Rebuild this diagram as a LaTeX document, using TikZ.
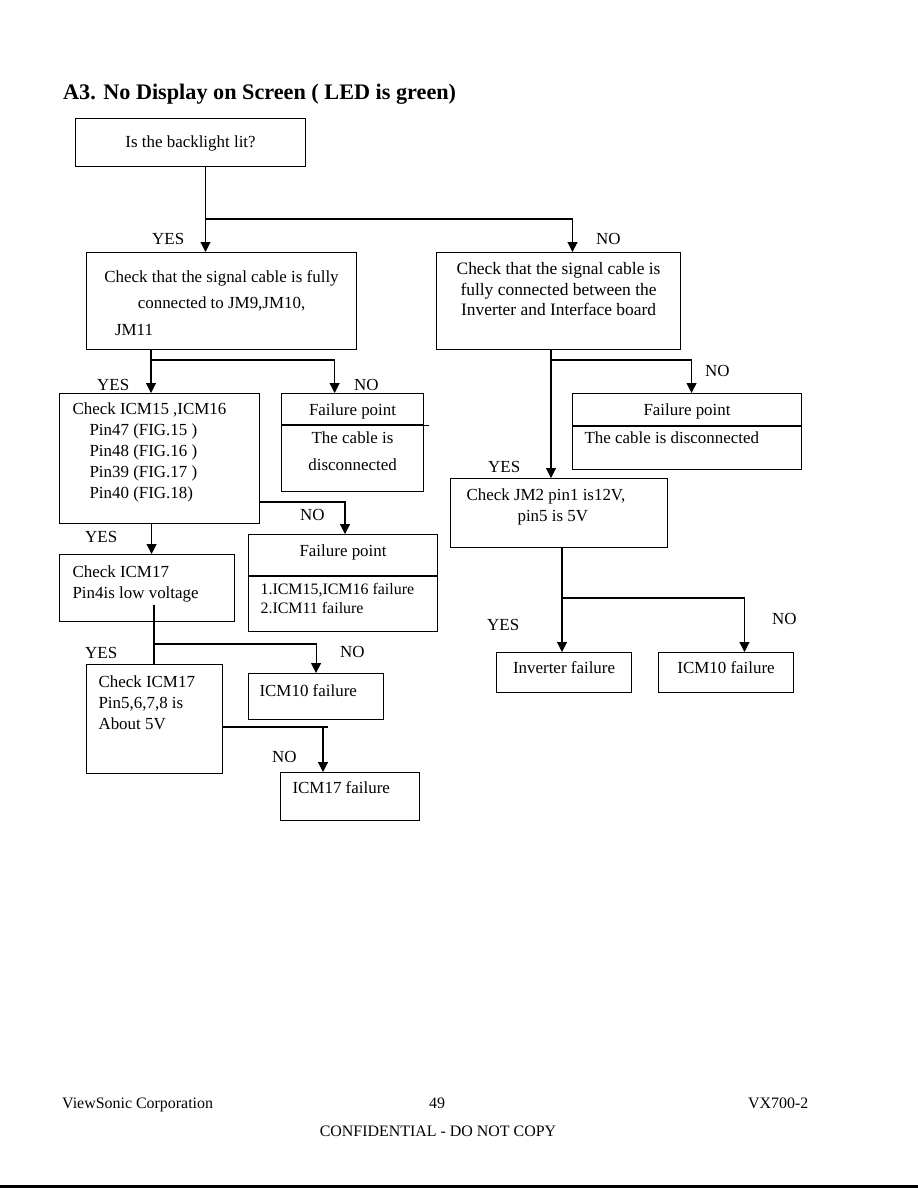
\documentclass[tikz,border=0pt]{standalone}
\usepackage{fontspec}
\setmainfont{Liberation Serif}
\usepackage{tikz}
\usetikzlibrary{arrows.meta,positioning,calc}
\newcommand\fcTitle{\fontsize{22.3}{26}\selectfont\bfseries}
\newcommand\fcBody{\fontsize{17}{21}\selectfont}
\newcommand\fcWide{\fontsize{17}{26.5}\selectfont}
\newcommand\fcInv{\fontsize{17.5}{20.7}\selectfont}
\newcommand\fcSmall{\fontsize{16}{19}\selectfont}
\newcommand\fcFoot{\fontsize{16}{19}\selectfont}

\begin{document}
\begin{tikzpicture}[
  x=1bp,y=-1bp,
  box/.style={draw,line width=1.1bp,anchor=north west,inner sep=0pt,
              font=\fcBody,align=flush center,text height=12bp},
  lbox/.style={box,align=flush left},
  lbl/.style={font=\fcBody,anchor=base west,inner sep=0pt},
  arw/.style={-{Triangle[length=10bp,width=10bp]},line width=1.1bp},
  ln/.style={line width=1.1bp}
]
  \useasboundingbox (0,0) rectangle (918,1188);

  \node[anchor=base west,inner sep=0pt,font=\fcTitle] (title) at (63,99)
      {A3. No Display on Screen ( LED is green)};

  % ── boxes ──
  \node[box,minimum width=230bp,minimum height=48bp,text depth=2bp] (q) at (75,118)
      {Is the backlight lit?};
  \node[box,font=\fcWide,text width=260bp,minimum width=270bp,minimum height=97bp,text depth=49bp] (sig) at (86,252)
      {Check that the signal cable is fully\\connected to JM9,JM10,\\\makebox[213bp][l]{JM11}};
  \node[box,font=\fcInv,text width=236bp,minimum width=244bp,minimum height=97bp,text depth=65bp] (inv) at (436,252)
      {Check that the signal cable is\\fully connected between the\\Inverter and Interface board};

  \node[lbox,text width=174bp,minimum width=200bp,minimum height=130bp,text depth=100bp] (icm) at (59,393)
      {Check ICM15 ,ICM16\\\hspace*{17bp}Pin47 (FIG.15 )\\\hspace*{17bp}Pin48 (FIG.16 )\\
       \hspace*{17bp}Pin39 (FIG.17 )\\\hspace*{17bp}Pin40 (FIG.18)};
  \node[box,minimum width=142bp,minimum height=31bp,text depth=0bp] (fp1) at (281,393)
      {Failure point};
  \node[box,font=\fcWide,text width=132bp,minimum width=142bp,minimum height=66bp,text depth=42bp] (fp1b) at (fp1.south west)
      {The cable is\\disconnected};
  \draw[ln] (fp1.south east) -- ++(5,0);

  \node[box,minimum width=229bp,minimum height=32bp,text depth=0bp] (fp2) at (572,393)
      {Failure point};
  \node[lbox,text width=205bp,minimum width=229bp,minimum height=43bp,text depth=21bp] (fp2b) at (fp2.south west)
      {The cable is disconnected};

  \node[box,text width=205bp,minimum width=217bp,minimum height=69bp,text depth=37bp] (jm2) at (450,478)
      {\makebox[185bp][l]{Check JM2 pin1 is12V,}\\\makebox[83bp][l]{pin5 is 5V}};

  \node[box,minimum width=189bp,minimum height=41bp,text depth=9bp] (fp3) at (248,534)
      {Failure point};
  \node[lbox,font=\fcSmall,text height=11bp,text width=165bp,minimum width=189bp,minimum height=55bp,
        text depth=30bp] (fp3b) at (fp3.south west)
      {1.ICM15,ICM16 failure\\2.ICM11 failure};

  \node[lbox,text width=149bp,minimum width=175bp,minimum height=67bp,text depth=33bp] (c17) at (59,554)
      {Check ICM17\\Pin4is low voltage};
  \node[lbox,text width=112bp,minimum width=136bp,minimum height=109bp,text depth=75bp] (c17b) at (86,664)
      {Check ICM17\\Pin5,6,7,8 is\\About 5V};
  \node[lbox,text width=113bp,minimum width=135bp,minimum height=46bp,text depth=12bp] (i10) at (248,673)
      {ICM10 failure};
  \node[lbox,text width=115bp,minimum width=139bp,minimum height=48bp,text depth=18bp] (f17) at (280,772)
      {ICM17 failure};

  \node[box,minimum width=135bp,minimum height=40bp,text depth=10bp] (invf) at (496,652)
      {Inverter failure};
  \node[box,minimum width=135bp,minimum height=40bp,text depth=10bp] (i10r) at (658,652)
      {ICM10 failure};

  % ── connectors ──
  \coordinate (j1) at (205,219);
  \coordinate (j2) at (151,360);
  \coordinate (j3) at (551,360);
  \coordinate (j4) at (345,502);
  \coordinate (j5) at (154,644);
  \coordinate (j6) at (323,727);
  \coordinate (j7) at (562,598);

  \draw[arw] ([xshift=15]q.south) -- ([xshift=15]q.south |- sig.north);
  \draw[arw] (j1) -| ([xshift=14]inv.north);

  \draw[ln] (j2 |- sig.south) -- (j2);
  \draw[arw] (j2) -- (j2 |- icm.north);
  \draw[arw] (j2) -| ([xshift=-18]fp1.north);

  \draw[arw] (j3 |- inv.south) -- (j3 |- jm2.north);
  \draw[arw] (j3) -| ([xshift=4.5]fp2.north);

  \draw[arw] (icm.east |- j4) -- (j4) -- (j4 |- fp3.north);
  \draw[arw] ([xshift=-8]icm.south) -- ([xshift=-8]icm.south |- c17.north);

  \draw[ln] ([yshift=17]j5 |- c17.south) -- (j5 |- c17b.north);
  \draw[arw] (j5) -| (i10.north);

  \draw[ln] (c17b.east |- j6) -- ([xshift=5]j6);
  \draw[arw] (j6) -- (j6 |- f17.north);

  \draw[ln] (j7 |- jm2.south) -- (j7);
  \draw[arw] (j7) -- (j7 |- invf.north);
  \draw[arw] (j7) -| ([xshift=18.5]i10r.north);

  % ── YES / NO ──
  \node[lbl] (y1) at (152,244) {YES};
  \node[lbl] (n1) at (596,244) {NO};
  \node[lbl] (y2) at (97,390) {YES};
  \node[lbl] (n2) at (354,390) {NO};
  \node[lbl] (n3) at (705,376) {NO};
  \node[lbl] (y3) at (488,472) {YES};
  \node[lbl] (n4) at (300,520) {NO};
  \node[lbl] (y4) at (85,542) {YES};
  \node[lbl] (y5) at (487,630) {YES};
  \node[lbl] (n5) at (772,624) {NO};
  \node[lbl] (y6) at (85,658) {YES};
  \node[lbl] (n6) at (340,657) {NO};
  \node[lbl] (n7) at (272,762) {NO};

  % ── footer ──
  \node[lbl,font=\fcFoot] (corp) at (62,1108) {ViewSonic Corporation};
  \node[lbl,font=\fcFoot,anchor=base] (page) at (437,1108) {49};
  \node[lbl,font=\fcFoot] (model) at (748,1108) {VX700-2};
  \node[lbl,font=\fcFoot,anchor=base] (conf) at (438,1136) {CONFIDENTIAL - DO NOT COPY};
  \fill (0,1185) rectangle (918,1188);
\end{tikzpicture}
\end{document}
